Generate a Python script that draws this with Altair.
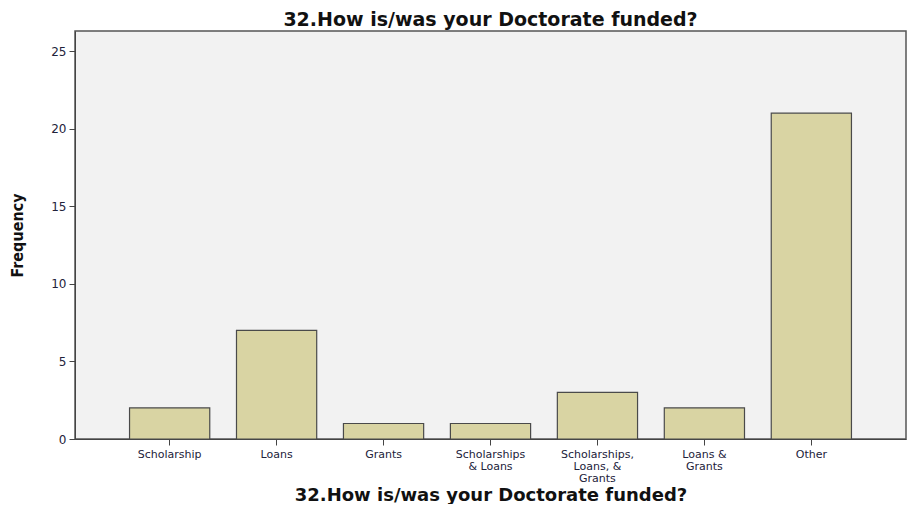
import altair as alt
import pandas as pd

categories = ["Scholarship", "Loans", "Grants", "Scholarships\n& Loans",
              "Scholarships,\nLoans, &\nGrants", "Loans &\nGrants", "Other"]
frequency = [2, 7, 1, 1, 3, 2, 21]
y_ticks = [0, 5, 10, 15, 20, 25]

df = pd.DataFrame({"cat": categories, "freq": frequency})
title = "32.How is/was your Doctorate funded?"

chart = alt.Chart(df).mark_bar(
    color="#D9D4A3", stroke="#4a4a4a", strokeWidth=1.2
).encode(
    x=alt.X("cat:N", sort=categories,
            scale=alt.Scale(paddingInner=0.25, paddingOuter=0.51),
            axis=alt.Axis(title=title, labelAngle=0,
                          labelExpr="split(datum.label, '\\n')",
                          labelFont="DejaVu Sans", labelFontSize=11,
                          labelColor="#22223a", labelLineHeight=12,
                          labelPadding=3, tickSize=6, tickColor="#444",
                          domainColor="#444", titleFont="DejaVu Sans",
                          titleFontSize=18, titleFontWeight="bold",
                          titleColor="#111", titlePadding=3)),
    y=alt.Y("freq:Q", scale=alt.Scale(domain=[0, 26.3], nice=False),
            axis=alt.Axis(title="Frequency", values=y_ticks, grid=False,
                          labelFont="DejaVu Sans", labelFontSize=12,
                          labelColor="#22223a", tickSize=6, tickColor="#444",
                          domainColor="#444", labelPadding=3,
                          titleFont="DejaVu Sans Condensed", titleFontSize=16,
                          titleFontWeight="bold", titleColor="#111",
                          titlePadding=25)),
).properties(
    width=899, height=496,
    padding={"top": 3, "left": 1, "right": 1, "bottom": 0},
    autosize=alt.AutoSizeParams(type="fit", contains="padding"),
    title=alt.TitleParams(title, font="DejaVu Sans", fontSize=19,
                          fontWeight="bold", color="#111", offset=1),
    background="white",
).configure_view(
    fill="#F2F2F2", stroke="#555", strokeWidth=1.5
)

chart.save("out.html", embed_options={"renderer": "svg", "actions": False})
